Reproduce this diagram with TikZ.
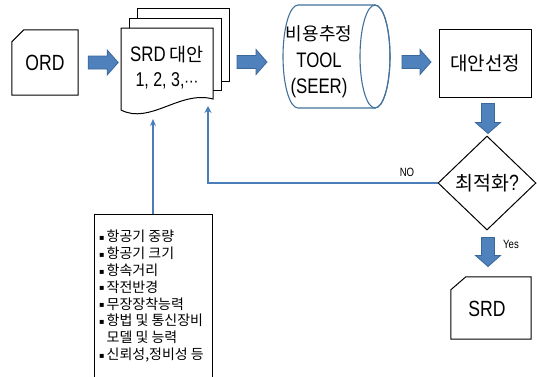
\documentclass[tikz,border=0pt]{standalone}
\usepackage{fontspec}
\setmainfont{Noto Sans CJK KR}
\newfontfamily\lat[FakeStretch=0.8]{Liberation Sans}
\newfontfamily\symf{DejaVu Sans}
\usetikzlibrary{shapes.geometric,arrows.meta,calc}
\definecolor{barfill}{HTML}{4F81BD}
\definecolor{barline}{HTML}{3A6899}
\definecolor{cylline}{HTML}{41719C}
\definecolor{fbline}{HTML}{4A7EBB}
\newcommand\fs[2]{\fontsize{#1}{#2}\selectfont}
\newcommand\bul{{\symf\fs{8}{8}\raisebox{0.3ex}{▪}}\hspace{2pt}}
\tikzset{
  outline/.style={draw=black, line width=1pt, fill=white},
  barrow/.style={fill=barfill, draw=barline, line width=0.8pt},
  pics/barr/.style={code={\filldraw[barrow] (0,-6.5) -- (#1-11,-6.5) -- (#1-11,-12.5) -- (#1,0) -- (#1-11,12.5) -- (#1-11,6.5) -- (0,6.5) -- cycle;}},
  fbarrow/.style={draw=fbline, line width=2pt, -{Stealth[length=7pt,width=7pt]}},
  inarrow/.style={draw=fbline, line width=1.4pt, -{Stealth[length=7pt,width=6pt]}},
  lbl/.style={inner sep=0pt, text=black},
}
\begin{document}
\begin{tikzpicture}[x=1pt,y=-1pt]
\useasboundingbox (0,0) rectangle (537,376);
\clip (0,0) rectangle (537,376);
\fill[white] (0,0) rectangle (537,376);

% ORD card
\node[lbl, minimum width=66pt, minimum height=65pt] (ord) at (45,62.5) {};
\draw[outline] (ord.south west) -- ($(ord.north west)+(0,12)$) -- ($(ord.north west)+(12,0)$) -- (ord.north east) -- (ord.south east) -- cycle;
\node[lbl, font=\lat\fs{22}{22}] at (ord) {ORD};

% SRD document stack
\filldraw[outline] (137,8) rectangle (229,81);
\filldraw[outline] (129,18) rectangle (221,90);
\filldraw[outline] (121,28) -- (213,28) -- (213,99) .. controls (180,90) and (150,125) .. (121,110) -- cycle;
\node[lbl, align=center, font=\fs{18.5}{25}] (srd) at (167,68) {{\lat\fs{21}{25}SRD} 대안\\{\lat\fs{20}{25}1, 2, 3,}{\symf\fs{14}{25}⋯}};
\coordinate (srdW) at (121,63);
\coordinate (srdE) at (213,62);

% cylinder
\filldraw[fill=white, draw=cylline, line width=1.1pt] (375,5) -- (298,5) arc[start angle=-90, end angle=-270, x radius=15, y radius=51.5] -- (375,108) arc[start angle=90, end angle=-90, x radius=15, y radius=51.5] -- cycle;
\draw[draw=cylline, line width=1.1pt] (375,56.5) ellipse [x radius=15, y radius=51.5];
\node[lbl, align=center, font=\fs{18}{26.5}] (tool) at (319,62) {비용추정\\{\lat\fs{21}{26.5}TOOL}\\{\lat\fs{21}{26.5}(SEER)}};
\coordinate (cylW) at (283,62);
\coordinate (cylE) at (390,62);

% selection box
\node[outline, minimum width=92pt, minimum height=68pt, inner sep=0pt, font=\fs{19}{19}] (sel) at (485,63) {대안선정};

% decision
\node[diamond, outline, minimum width=98pt, minimum height=94pt, inner sep=0pt, font=\fs{19.5}{19.5}] (opt) at (487,183) {최적화{\lat\fs{22}{22}?}};

% SRD output card
\node[lbl, minimum width=80pt, minimum height=62pt] (out) at (491,308) {};
\draw[outline] (out.south west) -- ($(out.north west)+(0,13)$) -- ($(out.north west)+(15,0)$) -- (out.north east) -- (out.south east) -- cycle;
\node[lbl, font=\lat\fs{22}{22}] at ($(out)+(-4,1)$) {SRD};

% input list
\node[outline, minimum width=118pt, minimum height=166pt, inner sep=0pt] (inbox) at (153,297) {};
\node[lbl, anchor=north west, align=left, font=\fs{14}{16.8}] (list) at (99,230) {%
\bul 항공기 중량\\
\bul 항공기 크기\\
\bul 항속거리\\
\bul 작전반경\\
\bul 무장장착능력\\
\bul 항법 및 통신장비\\
\phantom{\bul}모델 및 능력\\
\bul 신뢰성,정비성 등};

% block arrows
\pic at ($(ord.east)+(10,0)$) {barr=30};
\pic at ($(srdE)+(24,0)$) {barr=30};
\pic at ($(cylE)+(12,0)$) {barr=29};
\pic[rotate=-90] at ($(sel.south)+(3,6)$) {barr=30};
\pic[rotate=-90] at ($(opt.south)+(1,7)$) {barr=29};

% feedback and input connectors
\coordinate (fbtip) at (208,106);
\draw[fbarrow] (opt.west) -| (fbtip);
\coordinate (intip) at (153,119);
\draw[inarrow] (inbox.north) -- (intip);

% labels
\node[lbl, font=\lat\fs{12}{12}] at (407,172) {NO};
\node[lbl, font=\lat\fs{12}{12}] at (511,244) {Yes};
\end{tikzpicture}
\end{document}
